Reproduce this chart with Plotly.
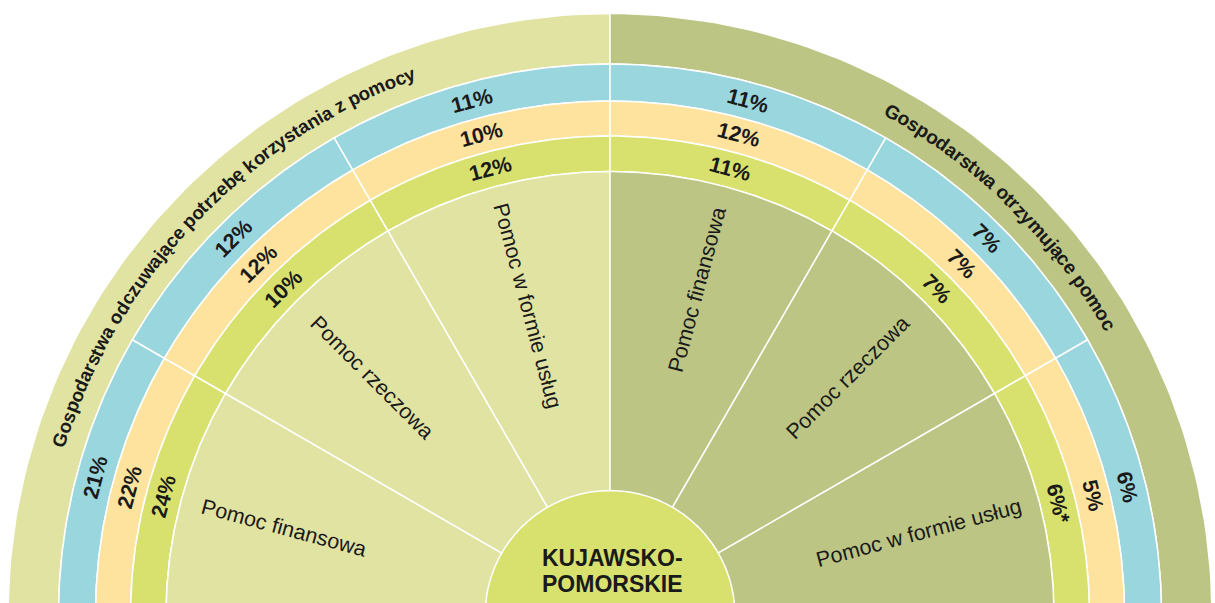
import math
import plotly.graph_objects as go

# dane
GROUPS = ["Gospodarstwa odczuwające potrzebę korzystania z pomocy",
          "Gospodarstwa otrzymujące pomoc"]
AID_TYPES = ["Pomoc finansowa", "Pomoc rzeczowa", "Pomoc w formie usług"]
REGION = ["KUJAWSKO-", "POMORSKIE"]

# pierścienie od zewnątrz: niebieski, żółty, zielony (kolejność jak AID_TYPES)
NEED_BLUE = [21, 12, 11]
NEED_YELLOW = [22, 12, 10]
NEED_GREEN = [24, 10, 12]
GOT_BLUE = [11, 7, 6]
GOT_YELLOW = [12, 7, 5]
GOT_GREEN = [11, 7, 6]
GOT_GREEN_NOTE = ["", "", "*"]

# kolory
C_LEFT = "#e1e3a3"
C_RIGHT = "#bcc584"
C_BLUE = "#9ad6de"
C_YELLOW = "#fde39e"
C_GREEN = "#d8e16e"
C_TEXT = "#1a1a1a"
FONT = "Liberation Sans, Arial, sans-serif"

# promienie (px)
R_OUT, R_BLUE, R_YEL, R_GRN, R_IN, R_HUB = 602, 551.5, 514.5, 479.5, 444, 125
CY = 615.5  # środek poniżej dolnej krawędzi

# szerokości znaków Arial Bold (em)
BOLD_W = {" ": .278, "a": .556, "b": .611, "c": .556, "d": .611, "e": .556, "f": .333,
          "g": .611, "h": .611, "i": .278, "j": .278, "k": .556, "l": .278, "m": .889,
          "n": .611, "o": .611, "p": .611, "r": .389, "s": .556, "t": .333, "u": .611,
          "w": .778, "y": .556, "z": .5, "G": .778, "ą": .556, "ę": .556}


def wedge(r0, r1, t0, t1, n=80):
    ts = [t0 + (t1 - t0) * i / n for i in range(n + 1)]
    xs = [r1 * math.cos(math.radians(t)) for t in ts]
    ys = [r1 * math.sin(math.radians(t)) for t in ts]
    xs += [r0 * math.cos(math.radians(t)) for t in reversed(ts)]
    ys += [r0 * math.sin(math.radians(t)) for t in reversed(ts)]
    return xs + [xs[0]], ys + [ys[0]]


def polar(r, t):
    return r * math.cos(math.radians(t)), r * math.sin(math.radians(t))


fig = go.Figure()


def add_wedge(r0, r1, t0, t1, color):
    xs, ys = wedge(r0, r1, t0, t1)
    fig.add_trace(go.Scatter(x=xs, y=ys, mode="lines", fill="toself", fillcolor=color,
                             line=dict(color="white", width=1.5), hoverinfo="skip",
                             showlegend=False))


# zewnętrzne pasy z tytułami grup
add_wedge(R_BLUE, R_OUT, 90, 180, C_LEFT)
add_wedge(R_BLUE, R_OUT, 0, 90, C_RIGHT)

# sektory: lewa połowa 180->90, prawa 90->0
spans_left = [(180 - 30 * (i + 1), 180 - 30 * i) for i in range(3)]
spans_right = [(90 - 30 * (i + 1), 90 - 30 * i) for i in range(3)]

rings = [(R_YEL, R_BLUE, C_BLUE), (R_GRN, R_YEL, C_YELLOW), (R_IN, R_GRN, C_GREEN)]
for r0, r1, col in rings:
    for t0, t1 in spans_left + spans_right:
        add_wedge(r0, r1, t0, t1, col)

for t0, t1 in spans_left:
    add_wedge(0, R_IN, t0, t1, C_LEFT)
for t0, t1 in spans_right:
    add_wedge(0, R_IN, t0, t1, C_RIGHT)

add_wedge(0, R_HUB, 0, 360, C_GREEN)

# etykiety procentowe w pierścieniach
ring_mid = [(R_YEL + R_BLUE) / 2, (R_GRN + R_YEL) / 2, (R_IN + R_GRN) / 2]
left_vals = [NEED_BLUE, NEED_YELLOW, NEED_GREEN]
right_vals = [GOT_BLUE, GOT_YELLOW, GOT_GREEN]
pct_font = dict(family=FONT, size=21.5, color=C_TEXT, weight="bold")
for k in range(3):
    for i in range(3):
        t = sum(spans_left[i]) / 2
        x, y = polar(ring_mid[k], t)
        fig.add_annotation(x=x, y=y, text=f"{left_vals[k][i]}%", textangle=90 - t,
                           showarrow=False, font=pct_font)
        t = sum(spans_right[i]) / 2 - (1 if i == 2 else 0)
        x, y = polar(ring_mid[k], t)
        note = GOT_GREEN_NOTE[i] if k == 2 else ""
        fig.add_annotation(x=x, y=y, text=f"{right_vals[k][i]}%{note}", textangle=90 - t,
                           showarrow=False, font=pct_font)

# nazwy rodzajów pomocy (promieniście)
label_r = [338, 336, 320]
lab_font = dict(family=FONT, size=21.5, color=C_TEXT)
for i, name in enumerate(AID_TYPES):
    t = sum(spans_left[i]) / 2
    x, y = polar(label_r[i], t)
    fig.add_annotation(x=x, y=y, text=name, textangle=180 - t, showarrow=False,
                       font=lab_font)
    t = sum(spans_right[i]) / 2
    x, y = polar(label_r[i], t)
    fig.add_annotation(x=x, y=y, text=name, textangle=-t, showarrow=False,
                       font=lab_font)


# tytuły grup pisane po łuku
def arc_text(text, t_mid, r, size):
    widths = [BOLD_W.get(ch, .556) * size for ch in text]
    pos = -sum(widths) / 2
    for ch, w in zip(text, widths):
        t = t_mid - math.degrees((pos + w / 2) / r)
        pos += w
        if ch == " ":
            continue
        x, y = polar(r, t)
        fig.add_annotation(x=x, y=y, text=ch, textangle=90 - t, showarrow=False,
                           font=dict(family=FONT, size=size, color=C_TEXT, weight="bold"))


arc_text(GROUPS[0], 136.4, 577, 18.8)
arc_text(GROUPS[1], 45.6, 577, 19.2)

# region w środku
for line, ypx in zip(REGION, [558, 584]):
    fig.add_annotation(x=2, y=CY - ypx, text=line, showarrow=False,
                       font=dict(family=FONT, size=23, color=C_TEXT, weight="bold"))

fig.update_xaxes(range=[-610, 605], visible=False, fixedrange=True)
fig.update_yaxes(range=[CY - 603, CY], visible=False, fixedrange=True)
fig.update_layout(width=1215, height=603, autosize=False,
                  margin=dict(l=0, r=0, t=0, b=0),
                  plot_bgcolor="white", paper_bgcolor="white")
fig.write_html("out.html", config={"displayModeBar": False},
               post_script="document.body.style.margin='0';document.body.style.overflow='hidden';")
